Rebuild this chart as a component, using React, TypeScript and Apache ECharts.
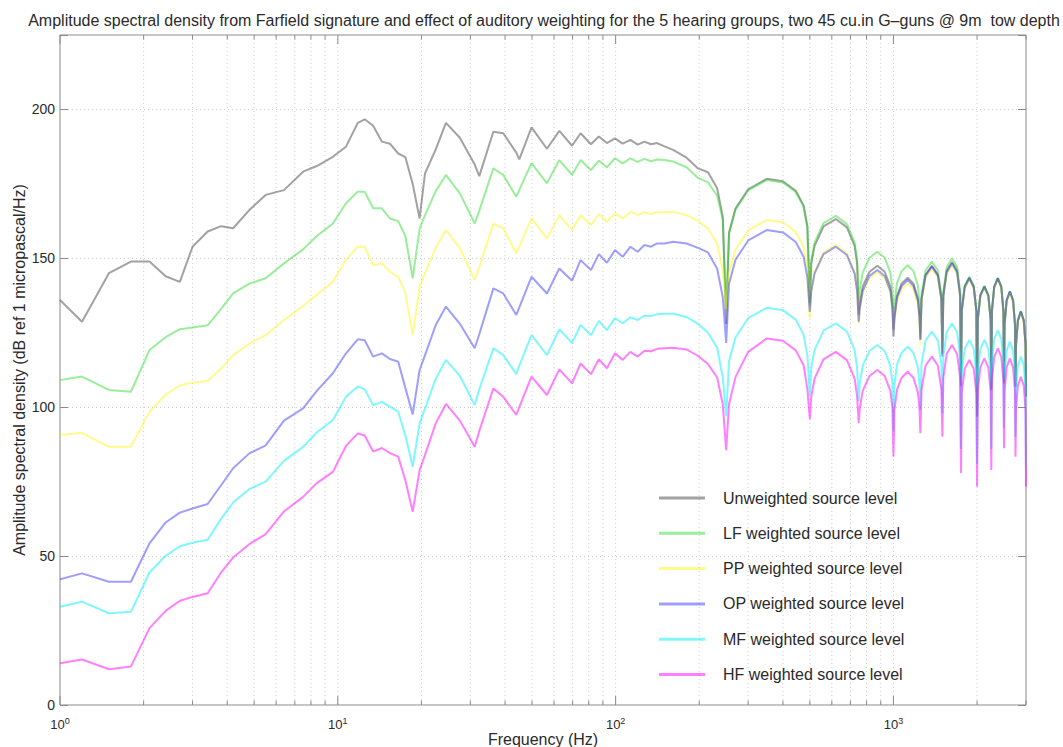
import React, { useEffect, useRef } from 'react';
import * as echarts from 'echarts';

// Frequency grid (Hz) shared by every curve
const freqHz = [
  1, 1.2, 1.5, 1.8, 2.1, 2.4, 2.7, 3.0, 3.4, 3.8,
  4.2, 4.8, 5.5, 6.4, 7.5, 8.4, 9.6, 10.7, 11.8, 12.5,
  13.4, 14.4, 15.4, 16.5, 17.5, 18.6, 19.7, 20.6, 22.5, 24.5,
  27.5, 31.1, 32.3, 36.3, 39.4, 43.9, 45, 49.8, 56.6, 62.7,
  69.7, 74.8, 81.5, 87, 93, 99.5, 106, 113, 120, 127,
  134, 141, 150, 161, 180, 198, 215, 232, 243,
  250, 256, 270, 300, 350, 400, 445, 475, 490,
  500, 506, 520, 560, 620, 680, 725, 740,
  750, 756, 775, 820, 875, 930, 975, 992,
  1000, 1008, 1030, 1070, 1125, 1180, 1225, 1242,
  1250, 1262, 1305, 1375, 1445, 1488,
  1500, 1512, 1555, 1625, 1695, 1738,
  1750, 1762, 1805, 1875, 1945, 1988,
  2000, 2012, 2055, 2125, 2195, 2238,
  2250, 2262, 2305, 2375, 2445, 2488,
  2500, 2512, 2555, 2625, 2695, 2738,
  2750, 2762, 2805, 2875, 2945, 2988,
  3000,
];

const unweighted = [
  136.0, 128.7, 145.0, 148.9, 148.9, 144.0, 142.1, 153.9, 159.0, 160.8,
  160.1, 166.2, 171.3, 172.9, 179.1, 181.0, 184.1, 187.5, 195.5, 196.7,
  194.5, 189.2, 188.5, 185.2, 184.0, 175.0, 163.4, 178.5, 186.5, 195.5,
  190.5, 181.5, 177.6, 192.5, 192.0, 185.5, 183.2, 194.0, 186.8, 192.8,
  187.8, 192.0, 188.3, 190.9, 188.7, 190.3, 188.5, 189.8, 188.2, 189.2,
  188.3, 188.7, 187.6, 186.4, 183.8, 180.2, 178.9, 173.5, 164.0,
  128, 158.7, 166.7, 173.2, 176.7, 175.9, 172.7, 167.7, 160.7,
  135, 148.2, 154.2, 160.7, 163.2, 160.4, 154.2, 148.2,
  131, 134.5, 140.5, 145.5, 147.5, 145.5, 140.5, 134.5,
  126, 130.5, 137.5, 141.5, 143.5, 141.5, 136.5, 130.5,
  123, 136.5, 144.5, 147.5, 144.5, 136.5,
  118, 137.8, 145.8, 148.8, 145.8, 137.8,
  107.5, 132.5, 140.5, 143.5, 140.5, 132.5,
  97, 129.5, 137.5, 140.5, 137.5, 129.5,
  106, 132.3, 140.3, 143.3, 140.3, 132.3,
  108, 127.8, 135.8, 138.8, 135.8, 127.8,
  107, 121.1, 129.1, 132.1, 129.1, 121.1,
  103.5,
];

const lfWeighted = [
  109.1, 110.3, 105.8, 105.2, 119.2, 123.5, 126.2, 126.8, 127.5, 133.0,
  138.2, 141.5, 143.3, 148.3, 153.0, 157.5, 161.7, 168.5, 172.4, 172.4,
  166.8, 166.8, 163.4, 162.5, 157.5, 143.3, 160.0, 164.5, 172.5, 178.0,
  171.8, 161.7, 166.0, 180.2, 178.0, 170.7, 173.0, 182.0, 175.2, 183.0,
  178.0, 183.0, 179.6, 182.8, 180.6, 183.6, 181.9, 183.6, 182.4, 183.4,
  182.6, 183.2, 183.0, 182.5, 180.6, 177.0, 175.5, 171.0, 163.0,
  133, 158.3, 166.3, 172.8, 176.3, 175.5, 172.3, 167.3, 160.3,
  134, 149.3, 155.3, 161.8, 164.3, 161.5, 155.3, 149.3,
  136, 139.2, 145.2, 150.2, 152.2, 150.2, 145.2, 139.2,
  132.7, 134.7, 141.7, 145.7, 147.7, 145.7, 140.7, 134.7,
  124.9, 137.9, 145.9, 148.9, 145.9, 137.9,
  120, 139, 147, 150, 147, 139,
  108, 132.8, 140.8, 143.8, 140.8, 132.8,
  97.5, 129.8, 137.8, 140.8, 137.8, 129.8,
  106.5, 132.5, 140.5, 143.5, 140.5, 132.5,
  108.5, 128, 136, 139, 136, 128,
  107.5, 121.3, 129.3, 132.3, 129.3, 121.3,
  104,
];

const ppWeighted = [
  90.7, 91.4, 86.7, 86.7, 98.5, 104.2, 107.3, 108.2, 108.8, 113.0,
  117.5, 121.4, 124.2, 129.3, 134.0, 137.8, 142.1, 149.5, 153.9, 153.9,
  147.7, 148.3, 145.5, 143.8, 138.5, 124.2, 140.5, 145.0, 153.5, 159.5,
  153.4, 142.7, 147.0, 161.7, 160.1, 151.7, 154.0, 163.4, 156.7, 164.5,
  159.5, 164.5, 161.2, 164.9, 162.3, 165.1, 163.4, 165.6, 164.5, 165.5,
  164.9, 165.5, 165.5, 165.6, 164.5, 162.5, 160.0, 155.0, 146.0,
  133, 144.9, 152.9, 159.4, 162.9, 162.1, 158.9, 153.9, 146.9,
  130, 139.5, 145.5, 152, 154.5, 151.7, 145.5, 139.5,
  128, 132.3, 138.3, 143.3, 145.3, 143.3, 138.3, 132.3,
  124, 128.6, 135.6, 139.6, 141.6, 139.6, 134.6, 128.6,
  121, 135.5, 143.5, 146.5, 143.5, 135.5,
  117, 136.8, 144.8, 147.8, 144.8, 136.8,
  106.5, 131.8, 139.8, 142.8, 139.8, 131.8,
  96.5, 129, 137, 140, 137, 129,
  105, 131.8, 139.8, 142.8, 139.8, 131.8,
  107.5, 127.3, 135.3, 138.3, 135.3, 127.3,
  106.5, 120.6, 128.6, 131.6, 128.6, 120.6,
  103,
];

const opWeighted = [
  42.2, 44.2, 41.4, 41.4, 54.3, 61.3, 64.6, 66.0, 67.5, 73.8,
  79.5, 84.5, 87.2, 95.5, 99.6, 105.5, 111.4, 118.1, 122.8, 122.5,
  117.0, 118.1, 116.2, 115.3, 106.5, 97.6, 112.5, 117.5, 127.5, 133.8,
  128.0, 119.8, 124.5, 139.9, 138.2, 131.0, 133.5, 143.8, 138.2, 146.6,
  142.5, 149.4, 146.1, 151.4, 148.5, 152.8, 150.5, 153.9, 152.2, 154.5,
  153.9, 155.0, 155.0, 155.6, 155.0, 153.5, 152.0, 146.5, 137.0,
  121.6, 141.5, 149.5, 156, 159.5, 158.7, 155.5, 150.5, 143.5,
  132.1, 138.9, 144.9, 151.4, 153.9, 151.1, 144.9, 138.9,
  128.7, 133.1, 139.1, 144.1, 146.1, 144.1, 139.1, 133.1,
  123.7, 129.7, 136.7, 140.7, 142.7, 140.7, 135.7, 129.7,
  122.6, 136.2, 144.2, 147.2, 144.2, 136.2,
  117, 137.3, 145.3, 148.3, 145.3, 137.3,
  106.9, 132.3, 140.3, 143.3, 140.3, 132.3,
  96.8, 129.5, 137.5, 140.5, 137.5, 129.5,
  105.8, 132.3, 140.3, 143.3, 140.3, 132.3,
  108, 127.8, 135.8, 138.8, 135.8, 127.8,
  106.9, 121.1, 129.1, 132.1, 129.1, 121.1,
  103.5,
];

const mfWeighted = [
  33.0, 34.7, 30.8, 31.3, 44.5, 50.1, 53.3, 54.5, 55.5, 62.5,
  68.0, 72.5, 75.0, 82.0, 86.7, 91.5, 95.7, 103.5, 107.0, 106.0,
  100.7, 101.8, 100.2, 98.5, 90.5, 80.0, 94.6, 99.5, 109.5, 115.9,
  110.5, 100.7, 106.0, 119.8, 117.5, 111.1, 114.0, 124.2, 117.5, 126.2,
  121.5, 127.6, 124.2, 129.0, 125.9, 129.9, 128.2, 130.2, 129.3, 130.8,
  130.6, 131.2, 131.4, 131.4, 130.3, 128.0, 125.0, 120.0, 110.0,
  97, 115.4, 123.4, 129.9, 133.4, 132.6, 129.4, 124.4, 117.4,
  104, 113.2, 119.2, 125.7, 128.2, 125.4, 119.2, 113.2,
  102, 107.9, 113.9, 118.9, 120.9, 118.9, 113.9, 107.9,
  92, 107.3, 114.3, 118.3, 120.3, 118.3, 113.3, 107.3,
  99, 114.4, 122.4, 125.4, 122.4, 114.4,
  98, 117.2, 125.2, 128.2, 125.2, 117.2,
  86, 111.6, 119.6, 122.6, 119.6, 111.6,
  81, 111.6, 119.6, 122.6, 119.6, 111.6,
  86, 114.9, 122.9, 125.9, 122.9, 114.9,
  93, 111, 119, 122, 119, 111,
  90, 106, 114, 117, 114, 106,
  80,
];

const hfWeighted = [
  14.0, 15.3, 12.0, 12.9, 25.8, 31.6, 35.0, 36.3, 37.5, 44.5,
  49.5, 54.0, 57.4, 65.0, 69.9, 74.5, 78.3, 87.0, 91.2, 90.5,
  85.1, 86.3, 84.6, 83.4, 75.5, 64.9, 78.9, 84.0, 94.5, 101.1,
  95.5, 86.7, 92.0, 106.3, 103.5, 97.4, 100.0, 110.3, 104.1, 112.7,
  108.0, 114.7, 111.1, 116.1, 113.1, 118.1, 115.9, 118.6, 117.0, 119.0,
  118.8, 119.6, 119.8, 120.0, 119.4, 117.2, 114.5, 110.0, 101.0,
  85.6, 101.1, 110.1, 118.6, 123.1, 122.3, 119.1, 114.1, 106.1,
  96, 103.6, 109.6, 116.1, 118.6, 115.8, 109.6, 103.6,
  94.7, 99.5, 105.5, 110.5, 112.5, 110.5, 105.5, 99.5,
  83.4, 98.9, 105.9, 109.9, 111.9, 109.9, 104.9, 98.9,
  91.3, 106, 114, 117, 114, 106,
  90.1, 109.9, 117.9, 120.9, 117.9, 109.9,
  77.9, 104.9, 112.9, 115.9, 112.9, 104.9,
  73.3, 105.4, 113.4, 116.4, 113.4, 105.4,
  78.9, 108.8, 116.8, 119.8, 116.8, 108.8,
  86.2, 105.4, 113.4, 116.4, 113.4, 105.4,
  83.4, 99.2, 107.2, 110.2, 107.2, 99.2,
  73.3,
];

const seriesNames = [
  'Unweighted source level',
  'LF weighted source level',
  'PP weighted source level',
  'OP weighted source level',
  'MF weighted source level',
  'HF weighted source level',
];
const seriesValues = [unweighted, lfWeighted, ppWeighted, opWeighted, mfWeighted, hfWeighted];
const seriesColors = [
  'rgba(70,70,70,0.5)',
  'rgba(30,215,30,0.45)',
  'rgba(255,245,0,0.45)',
  'rgba(40,40,255,0.45)',
  'rgba(0,240,255,0.5)',
  'rgba(255,0,255,0.5)',
];

// positions of log grid lines / ticks on the frequency axis
const xGridFreqs = [
  1, 2, 3, 4, 5, 6, 7, 8, 9,
  10, 20, 30, 40, 50, 60, 70, 80, 90,
  100, 200, 300, 400, 500, 600, 700, 800, 900,
  1000, 2000, 3000,
];

const X_MIN = 1;
const X_MAX = 3000;
const Y_MIN = 0;
const Y_MAX = 225;
const Y_STEP = 50;
const Y_LABEL_MAX = 200;

const TITLE =
  'Amplitude spectral density from Farfield signature and effect of auditory weighting for the 5 hearing groups, two 45 cu.in G\u2013guns @ 9m  tow depth';

export default function App() {
  const ref = useRef<HTMLDivElement>(null);

  useEffect(() => {
    if (!ref.current) return;
    const chart = echarts.init(ref.current, null, { renderer: 'svg' });
    const frame = '#8a8a8a';
    const gridLine = '#cdcdcd';
    const textColor = '#2a2a2a';

    const lineSeries = seriesNames.map((name, k) => ({
      type: 'line',
      name,
      data: freqHz.map((f, i) => [f, seriesValues[k][i]]),
      showSymbol: false,
      symbol: 'none',
      silent: true,
      z: 3,
      lineStyle: { width: 2, color: seriesColors[k] },
      itemStyle: { color: seriesColors[k] },
    }));

    const gridSeries = {
      type: 'custom',
      name: '__grid',
      silent: true,
      z: 1,
      clip: false,
      data: xGridFreqs.map((f) => [f, 0]),
      encode: { x: 0, y: 1 },
      renderItem: (params: any, api: any) => {
        const f = api.value(0);
        const x = api.coord([f, 0])[0];
        const cs = params.coordSys;
        const top = cs.y;
        const bot = cs.y + cs.height;
        const lg = Math.log10(f);
        const major = Math.abs(lg - Math.round(lg)) < 1e-9;
        const len = major ? 9 : 4.5;
        const children: any[] = [];
        if (f > X_MIN && f < X_MAX) {
          children.push({
            type: 'line',
            shape: { x1: x, y1: top, x2: x, y2: bot },
            style: { stroke: gridLine, lineWidth: 1, lineDash: [1, 3] },
          });
        }
        children.push({
          type: 'line',
          shape: { x1: x, y1: bot, x2: x, y2: bot - len },
          style: { stroke: frame, lineWidth: 1 },
        });
        children.push({
          type: 'line',
          shape: { x1: x, y1: top, x2: x, y2: top + len },
          style: { stroke: frame, lineWidth: 1 },
        });
        return { type: 'group', children };
      },
    };

    const option: any = {
      animation: false,
      textStyle: { fontFamily: 'Liberation Sans, Arial, Helvetica, sans-serif' },
      title: {
        text: TITLE,
        left: 539,
        top: 7,
        textAlign: 'center',
        textStyle: { fontSize: 16, fontWeight: 'normal', color: textColor },
      },
      grid: {
        left: 60,
        top: 35,
        right: 37,
        bottom: 42,
        containLabel: false,
        outerBoundsMode: 'none',
        show: true,
        borderColor: frame,
        borderWidth: 1,
        backgroundColor: 'transparent',
      },
      legend: {
        orient: 'vertical',
        left: 654,
        top: 485,
        icon: 'rect',
        itemWidth: 46,
        itemHeight: 3,
        itemGap: 19.3,
        selectedMode: false,
        data: seriesNames,
        textStyle: { fontSize: 16, color: textColor, lineHeight: 16, padding: [0, 0, 0, 13] },
      },
      xAxis: {
        type: 'log',
        logBase: 10,
        min: X_MIN,
        max: X_MAX,
        name: 'Frequency (Hz)',
        nameLocation: 'middle',
        nameGap: 26,
        nameMoveOverlap: false,
        nameTextStyle: { fontSize: 16, color: textColor },
        axisLine: { show: false },
        axisTick: { show: false },
        minorTick: { show: false },
        splitLine: { show: false },
        axisLabel: {
          color: textColor,
          margin: 11,
          formatter: (v: number) => {
            const lg = Math.log10(v);
            const e = Math.round(lg);
            if (Math.abs(lg - e) > 1e-6) return '';
            return '{b|10}{s|' + e + '}';
          },
          rich: {
            b: { fontSize: 13, color: textColor },
            s: { fontSize: 9, color: textColor, padding: [0, 0, 8, 0] },
          },
        },
      },
      yAxis: [
        {
          type: 'value',
          min: Y_MIN,
          max: Y_MAX,
          interval: Y_STEP,
          position: 'left',
          name: 'Amplitude spectral density (dB ref 1 micropascal/Hz)',
          nameLocation: 'middle',
          nameGap: 33,
          nameMoveOverlap: false,
          nameTextStyle: { fontSize: 16, color: textColor },
          axisLine: { show: false },
          axisTick: { show: true, inside: true, length: 8, lineStyle: { color: frame } },
          axisLabel: {
            fontSize: 14,
            color: textColor,
            margin: 5,
            formatter: (v: number) => (v % Y_STEP === 0 && v <= Y_LABEL_MAX ? String(v) : ''),
          },
          splitLine: { show: true, lineStyle: { color: gridLine, type: [1, 3] } },
        },
        {
          type: 'value',
          min: Y_MIN,
          max: Y_MAX,
          interval: Y_STEP,
          position: 'right',
          axisLine: { show: false },
          axisTick: { show: true, inside: true, length: 8, lineStyle: { color: frame } },
          axisLabel: { show: false },
          splitLine: { show: false },
        },
      ],
      series: [gridSeries, ...lineSeries],
    };

    chart.setOption(option);
    return () => chart.dispose();
  }, []);

  return (
    <div
      ref={ref}
      style={{ position: 'fixed', left: 0, top: 0, width: 1063, height: 747, background: '#fff' }}
    />
  );
}
